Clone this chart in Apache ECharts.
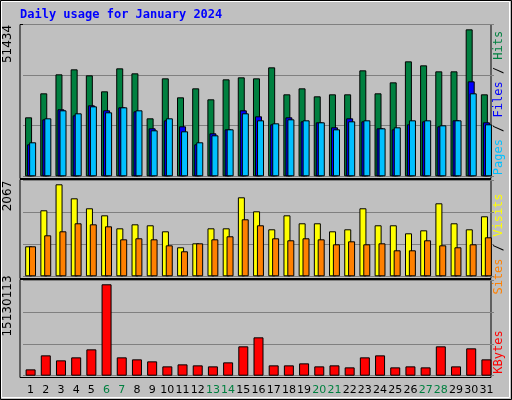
<!DOCTYPE html>
<html><head><meta charset="utf-8">
<script src="https://cdn.jsdelivr.net/npm/echarts@6/dist/echarts.min.js"></script>
<style>html,body{margin:0;padding:0;background:#C0C0C0}#c{width:512px;height:400px}</style>
</head><body><div id="c"></div>
<script>
const days = ['1','2','3','4','5','6','7','8','9','10','11','12','13','14','15','16','17','18','19','20','21','22','23','24','25','26','27','28','29','30','31'];
const weekend = ['6','7','13','14','20','21','27','28'];
const hits = [20644,29041,35689,37438,35339,29741,37788,36039,20294,34289,27642,30790,26942,33939,34639,34289,38138,28691,30790,27991,28691,28691,37089,29041,32890,40238,38838,36739,36739,51434,28691];
const files = [11196,19944,23443,21343,24842,23093,24142,22743,16795,19594,17495,11196,15045,16445,23093,20993,18194,20644,19244,18894,17145,20294,19244,16795,16445,18194,19244,17495,19594,33240,18894];
const pages = [11896,20294,23093,22043,24492,22393,24142,23093,16095,20294,15745,11896,14345,16445,22043,19594,18544,19944,19594,18894,16445,19244,19594,16795,17145,19594,19594,17845,19594,29041,18194];
const visits = [674,1483,2067,1752,1528,1370,1078,1168,1146,1011,652,741,1078,1078,1775,1460,1056,1370,1191,1191,1011,1056,1528,1146,1146,966,1033,1640,1191,1056,1348];
const sites = [674,921,1011,1191,1168,1123,831,854,831,696,562,741,831,899,1281,1146,854,809,854,831,719,786,719,741,584,584,809,696,652,719,876];
const kbytes = [1049000,3368000,2540000,3037000,4362000,15130113,3037000,2706000,2374000,1546000,1877000,1712000,1546000,2209000,4859000,6350000,1712000,1712000,2043000,1546000,1712000,1380000,3037000,3368000,1380000,1546000,1380000,4859000,1546000,4528000,2706000];
const maxLabels = ['51434','2067','15130113'];

const chart = echarts.init(document.getElementById('c'));
const L = 23, R = 18;
const grids = [
  {left:L,right:R,top:24.5,height:151.8},
  {left:L,right:R,top:180.7,height:95.6},
  {left:L,right:R,top:280.3,height:95.4}
];
const maxes = [53130, 2148, 15790000];
function yAx(i){return {gridIndex:i,type:'value',min:0,max:maxes[i],interval:maxes[i]/3,axisLabel:{show:false},axisLine:{show:false},axisTick:{show:false},splitLine:{lineStyle:{color:'#808080',width:1}}};}
function xAx(i,show){return {gridIndex:i,type:'category',data:days.map(d=>({value:d,textStyle:{color:weekend.includes(d)?'#008040':'#000000'}})),boundaryGap:true,axisLine:{show:false},axisTick:{show:false},axisLabel:{show:show,interval:0,margin:9,fontFamily:'DejaVu Sans',fontSize:11}};}
const bs = {borderColor:'#000',borderWidth:1};
const frame = (y,h)=>({type:'rect',shape:{x:20,y:y,width:471,height:h},style:{fill:'#C0C0C0',stroke:'#000',lineWidth:1},z:-10});
const vtext = (x,y,rich,text)=>({type:'text',x:x,y:y,rotation:Math.PI/2,style:{text:text,rich:rich,font:'12px "DejaVu Sans Mono"',align:'center',verticalAlign:'middle'}});
chart.setOption({
  animation:false,
  backgroundColor:'#C0C0C0',
  grid:grids,
  xAxis:[xAx(0,false),xAx(1,false),xAx(2,true)],
  yAxis:[yAx(0),yAx(1),yAx(2)],
  graphic:[
    {type:'rect',shape:{x:0.5,y:0.5,width:511,height:399},style:{fill:'none',stroke:'#000',lineWidth:1},z:-20},
    {type:'rect',shape:{x:1.5,y:1.5,width:508,height:396},style:{fill:'none',stroke:'#FFFFFF',lineWidth:1},z:-20},
    frame(24.5,154),frame(179.5,99),frame(279.5,98),
    {type:'text',x:20,y:9,style:{text:'Daily usage for January 2024',font:'bold 12px "DejaVu Sans Mono"',fill:'#0000FF'}},
    {type:'text',x:8,y:44,rotation:Math.PI/2,style:{text:maxLabels[0],font:'12px "DejaVu Sans"',fill:'#000',align:'center',verticalAlign:'middle'}},
    {type:'text',x:8,y:196,rotation:Math.PI/2,style:{text:maxLabels[1],font:'12px "DejaVu Sans"',fill:'#000',align:'center',verticalAlign:'middle'}},
    {type:'text',x:8,y:306,rotation:Math.PI/2,style:{text:maxLabels[2],font:'12px "DejaVu Sans"',fill:'#000',align:'center',verticalAlign:'middle'}},
    vtext(499,103,{p:{fill:'#00C0FF'},f:{fill:'#0000FF'},h:{fill:'#008040'}},'{p|Pages} / {f|Files} / {h|Hits}'),
    vtext(499,244,{s:{fill:'#FF8000'},v:{fill:'#FFFF00'}},'{s|Sites} / {v|Visits}'),
    vtext(499,352,{k:{fill:'#FF0000'}},'{k|KBytes}')
  ],
  series:[
    {type:'bar',name:'Hits',xAxisIndex:0,yAxisIndex:0,data:hits,barWidth:7,barGap:'-71%',itemStyle:Object.assign({color:'#008040'},bs)},
    {type:'bar',name:'Files',xAxisIndex:0,yAxisIndex:0,data:files,barWidth:7,barGap:'-71%',itemStyle:Object.assign({color:'#0000FF'},bs)},
    {type:'bar',name:'Pages',xAxisIndex:0,yAxisIndex:0,data:pages,barWidth:7,barGap:'-71%',itemStyle:Object.assign({color:'#00C0FF'},bs)},
    {type:'bar',name:'Visits',xAxisIndex:1,yAxisIndex:1,data:visits,barWidth:7,barGap:'-45%',itemStyle:Object.assign({color:'#FFFF00'},bs)},
    {type:'bar',name:'Sites',xAxisIndex:1,yAxisIndex:1,data:sites,barWidth:7,barGap:'-45%',itemStyle:Object.assign({color:'#FF8000'},bs)},
    {type:'bar',name:'KBytes',xAxisIndex:2,yAxisIndex:2,data:kbytes,barWidth:10,itemStyle:Object.assign({color:'#FF0000'},bs)}
  ]
});
</script></body></html>
